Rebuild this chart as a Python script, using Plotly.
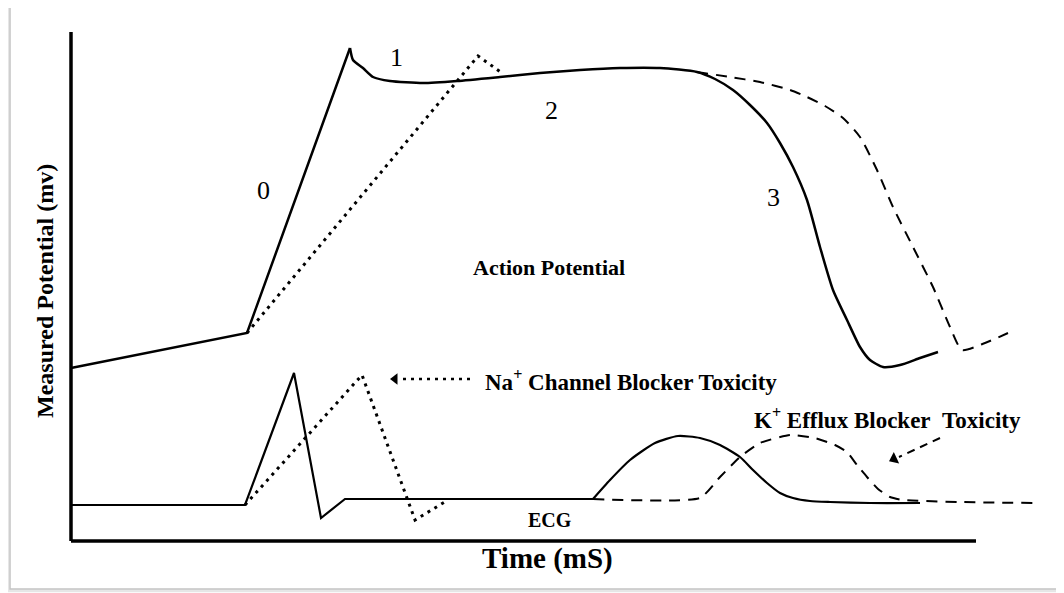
import plotly.graph_objects as go

# ---- Data (time in arbitrary ms units, potential in arbitrary mV units) ----
# action potential, normal (phase 0 upstroke, then phases 1-3)
ap_up_t = [0, 176, 279]
ap_up_v = [173, 208, 493]
ap_t = [279, 282, 292, 302, 319, 352, 386, 429, 469, 509, 549, 589, 626, 644, 662, 679, 696, 709,
        722, 736, 749, 762, 776, 789, 799, 812, 829, 849, 867]
ap_v = [493, 481, 473, 464, 460, 458, 460, 464, 468, 471, 473, 473, 469, 462, 451, 436, 418, 398,
        374, 341, 294, 251, 221, 194, 181, 174, 176, 183, 189]

# action potential, K+ efflux blocker toxicity
ap_k_t = [626, 659, 689, 719, 736, 754, 772, 789, 806, 822, 842, 862, 879, 891, 914, 937]
ap_k_v = [469, 464, 459, 451, 444, 435, 423, 404, 371, 334, 294, 254, 214, 191, 198, 208]

# action potential, Na+ channel blocker toxicity
ap_na_t = [176, 407, 431]
ap_na_v = [208, 485, 468]

# ECG, normal (QRS then T wave)
ecg_qrs_t = [0, 174, 223, 250, 274, 522]
ecg_qrs_v = [36, 36, 168, 23, 42, 42]
ecg_tw_t = [522, 539, 559, 584, 607, 629, 649, 669, 682, 696, 709, 722, 739, 759, 799, 849]
ecg_tw_v = [42, 61, 81, 98, 105, 103, 96, 84, 71, 58, 48, 43, 40, 39, 38, 38]

# ECG, K+ efflux blocker toxicity
ecg_k_t = [522, 629, 649, 669, 689, 719, 744, 764, 776, 786, 796, 807, 819, 832, 889, 962]
ecg_k_v = [42, 43, 64, 84, 98, 106, 103, 96, 89, 76, 64, 52, 44, 41, 39, 38]

# ECG, Na+ channel blocker toxicity
ecg_na_t = [174, 291, 344, 377]
ecg_na_v = [36, 166, 21, 41]

phase_labels = ["0", "1", "2", "3"]
phase_t = [192, 325, 480, 702]
phase_v = [351, 484, 431, 344]

SERIF = "Liberation Serif"
DASH = "11px,8px"
DOT = "3px,5px"

fig = go.Figure()

fig.add_trace(go.Scatter(x=ap_up_t, y=ap_up_v, mode="lines", line=dict(color="black", width=2.5)))
fig.add_trace(go.Scatter(x=ap_t, y=ap_v, mode="lines",
                         line=dict(color="black", width=2.5, shape="spline", smoothing=0.6)))
fig.add_trace(go.Scatter(x=ap_k_t, y=ap_k_v, mode="lines",
                         line=dict(color="black", width=2, dash=DASH, shape="spline", smoothing=0.6)))
fig.add_trace(go.Scatter(x=ap_na_t, y=ap_na_v, mode="lines", line=dict(color="black", width=3, dash=DOT)))
fig.add_trace(go.Scatter(x=ecg_qrs_t, y=ecg_qrs_v, mode="lines", line=dict(color="black", width=2.2)))
fig.add_trace(go.Scatter(x=ecg_tw_t, y=ecg_tw_v, mode="lines",
                         line=dict(color="black", width=2.2, shape="spline", smoothing=0.6)))
fig.add_trace(go.Scatter(x=ecg_k_t, y=ecg_k_v, mode="lines",
                         line=dict(color="black", width=2, dash=DASH, shape="spline", smoothing=0.5)))
fig.add_trace(go.Scatter(x=ecg_na_t, y=ecg_na_v, mode="lines", line=dict(color="black", width=3, dash=DOT)))

# arrow shafts and heads
fig.add_trace(go.Scatter(x=[399, 328], y=[162, 162], mode="lines", line=dict(color="black", width=2.5, dash=DOT)))
fig.add_trace(go.Scatter(x=[324], y=[162], mode="markers",
                         marker=dict(symbol="triangle-left", size=10, color="black")))
fig.add_trace(go.Scatter(x=[869, 828], y=[103, 84], mode="lines", line=dict(color="black", width=2, dash="8px,6px")))
fig.add_trace(go.Scatter(x=[823], y=[82], mode="markers",
                         marker=dict(symbol="triangle-up", size=11, angle=245, color="black")))

annotations = []
for lab, t, v in zip(phase_labels, phase_t, phase_v):
    annotations.append(dict(x=t, y=v, text=lab, showarrow=False,
                            font=dict(family=SERIF, size=26, color="black")))

annotations += [
    dict(x=478, y=274, text="<b>Action Potential</b>", showarrow=False,
         font=dict(family=SERIF, size=22, color="black")),
    dict(x=412, y=161, text="<b>Na<sup>+</sup> Channel Blocker Toxicity</b>", showarrow=False,
         xanchor="left", font=dict(family=SERIF, size=23, color="black")),
    dict(x=681, y=123, text="<b>K<sup>+</sup> Efflux Blocker\u00a0\u00a0Toxicity</b>", showarrow=False,
         xanchor="left", font=dict(family=SERIF, size=23, color="black")),
    dict(x=479, y=21, text="<b>ECG</b>", showarrow=False,
         font=dict(family=SERIF, size=20, color="black")),
    # axis titles
    dict(x=0.4875, y=-0.0094, xref="paper", yref="paper", text="<b>Time (mS)</b>", showarrow=False,
         xanchor="center", yanchor="middle", font=dict(family=SERIF, size=29, color="black")),
    dict(x=-0.015, y=0.4916, xref="paper", yref="paper", text="<b>Measured Potential (mv)</b>",
         showarrow=False, textangle=-90, xanchor="center", yanchor="middle",
         font=dict(family=SERIF, size=24, color="black")),
]

shapes = [
    # axes
    dict(type="line", xref="x", yref="y", x0=0, y0=0, x1=0, y1=509, line=dict(color="black", width=3.5)),
    dict(type="line", xref="x", yref="y", x0=0, y0=0, x1=905, y1=0, line=dict(color="black", width=3.5)),
    # picture frame with soft shadow
    dict(type="rect", xref="paper", yref="paper", x0=-0.052, y0=-0.071, x1=1.002, y1=1.027,
         line=dict(color="#e6e6e6", width=3)),
    dict(type="rect", xref="paper", yref="paper", x0=-0.05, y0=-0.0675, x1=1.0, y1=1.0244,
         line=dict(color="#c4c4c4", width=1.5)),
]

fig.update_layout(
    width=1056, height=585,
    margin=dict(l=52, r=4, t=12, b=40),
    paper_bgcolor="white", plot_bgcolor="white",
    showlegend=False,
    xaxis=dict(range=[-11, 989], visible=False, fixedrange=True),
    yaxis=dict(range=[-12, 521], visible=False, fixedrange=True),
    annotations=annotations,
    shapes=shapes,
)

fig.write_html("out.html")
